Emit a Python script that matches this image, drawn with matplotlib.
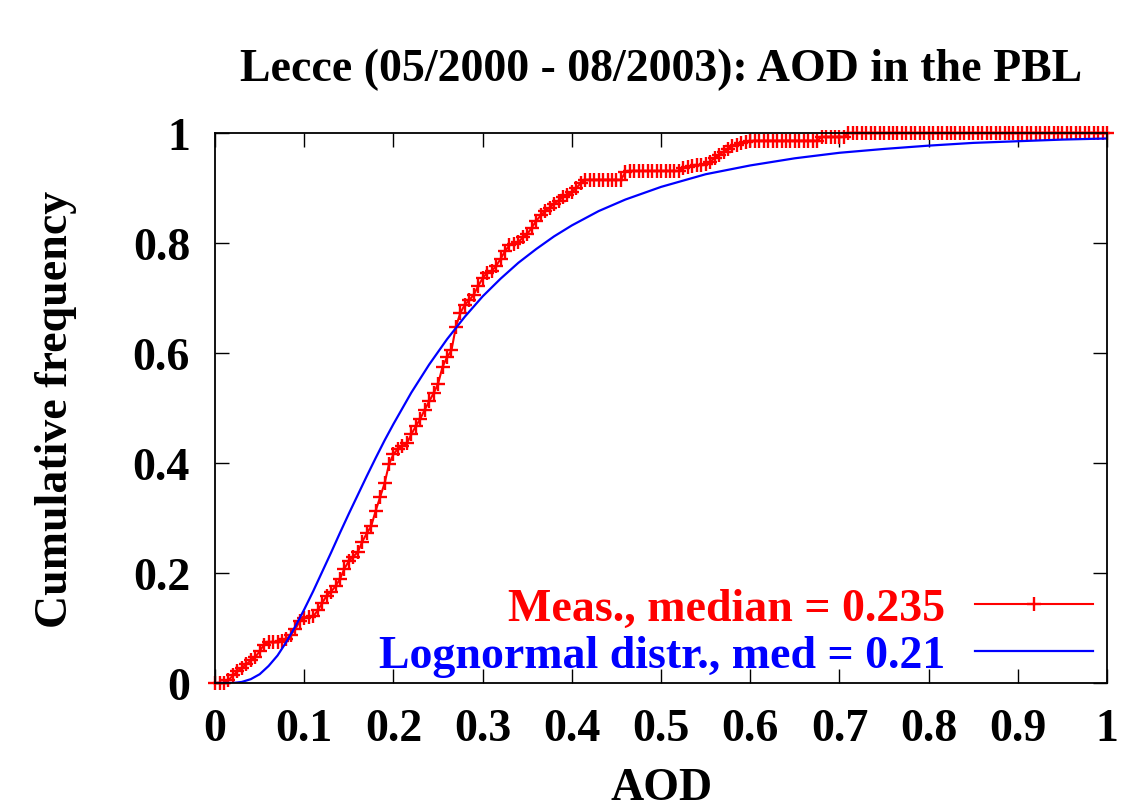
import numpy as np
import matplotlib
matplotlib.use("Agg")
import matplotlib.pyplot as plt

# measured cumulative frequency, sampled every 0.005 in AOD
aod_grid = np.linspace(0.0, 1.0, 201)
cum_meas = [
    0.000, 0.000, 0.000, 0.005, 0.014, 0.021, 0.028, 0.034, 0.041, 0.047,
    0.058, 0.070, 0.074, 0.074, 0.074, 0.076, 0.080, 0.088, 0.098, 0.113,
    0.118, 0.120, 0.121, 0.132, 0.145, 0.159, 0.166, 0.176, 0.189, 0.208,
    0.222, 0.230, 0.238, 0.257, 0.272, 0.285, 0.313, 0.338, 0.363, 0.398,
    0.416, 0.426, 0.431, 0.436, 0.452, 0.467, 0.480, 0.497, 0.512, 0.527,
    0.544, 0.575, 0.592, 0.605, 0.648, 0.673, 0.688, 0.696, 0.706, 0.722,
    0.736, 0.746, 0.749, 0.758, 0.771, 0.785, 0.796, 0.799, 0.802, 0.810,
    0.816, 0.828, 0.840, 0.850, 0.858, 0.864, 0.871, 0.877, 0.883, 0.888,
    0.893, 0.900, 0.909, 0.915, 0.915, 0.915, 0.915, 0.915, 0.915, 0.915,
    0.915, 0.915, 0.929, 0.931, 0.931, 0.931, 0.931, 0.931, 0.931, 0.931,
    0.931, 0.931, 0.931, 0.931, 0.931, 0.936, 0.938, 0.940, 0.941, 0.942,
    0.944, 0.948, 0.954, 0.960, 0.966, 0.971, 0.976, 0.979, 0.982, 0.984,
    0.985, 0.986, 0.986, 0.986, 0.986, 0.986, 0.986, 0.986, 0.986, 0.986,
    0.986, 0.986, 0.986, 0.986, 0.986, 0.986, 0.993, 0.993, 0.993, 0.993,
    0.993, 0.993, 1.000, 1.000, 1.000, 1.000, 1.000, 1.000, 1.000, 1.000,
    1.000, 1.000, 1.000, 1.000, 1.000, 1.000, 1.000, 1.000, 1.000, 1.000,
    1.000, 1.000, 1.000, 1.000, 1.000, 1.000, 1.000, 1.000, 1.000, 1.000,
    1.000, 1.000, 1.000, 1.000, 1.000, 1.000, 1.000, 1.000, 1.000, 1.000,
    1.000, 1.000, 1.000, 1.000, 1.000, 1.000, 1.000, 1.000, 1.000, 1.000,
    1.000, 1.000, 1.000, 1.000, 1.000, 1.000, 1.000, 1.000, 1.000, 1.000,
    1.000,
]

# lognormal fit
aod_logn = [0.0, 0.02, 0.03, 0.04, 0.05, 0.06, 0.07, 0.08, 0.09, 0.10,
            0.11, 0.12, 0.13, 0.14, 0.15, 0.16, 0.17, 0.18, 0.19, 0.20,
            0.22, 0.24, 0.26, 0.28, 0.30, 0.32, 0.34, 0.36, 0.38, 0.40,
            0.43, 0.46, 0.50, 0.55, 0.60, 0.65, 0.70, 0.75, 0.80, 0.85,
            0.90, 0.95, 1.00]
cum_logn = [0.000, 0.000, 0.002, 0.007, 0.016, 0.031, 0.050, 0.075, 0.103, 0.134,
            0.167, 0.202, 0.237, 0.273, 0.308, 0.342, 0.376, 0.409, 0.441, 0.471,
            0.528, 0.579, 0.625, 0.666, 0.703, 0.735, 0.764, 0.789, 0.812, 0.832,
            0.858, 0.879, 0.902, 0.925, 0.941, 0.954, 0.964, 0.971, 0.977, 0.982,
            0.985, 0.988, 0.990]

xticks = [0, 0.1, 0.2, 0.3, 0.4, 0.5, 0.6, 0.7, 0.8, 0.9, 1]
xticklabels = ["0", "0.1", "0.2", "0.3", "0.4", "0.5", "0.6", "0.7", "0.8", "0.9", "1"]
yticks = [0, 0.2, 0.4, 0.6, 0.8, 1]
yticklabels = ["0", "0.2", "0.4", "0.6", "0.8", "1"]

plt.rcParams["font.family"] = ["Liberation Serif", "DejaVu Serif"]
plt.rcParams["font.weight"] = "bold"
FS = 33

fig = plt.figure(figsize=(11.32, 8.12), dpi=100)
ax = fig.add_axes([0.19, 0.1576, 0.788, 0.6774])

ax.plot(aod_grid, cum_meas, color="#ff0000", lw=1.5, marker="+",
        ms=10, mew=1.7, clip_on=False, label="Meas., median = 0.235")
ax.plot(aod_logn, cum_logn, color="#0000ff", lw=1.6,
        label="Lognormal distr., med = 0.21")

ax.set_xlim(0, 1)
ax.set_ylim(0, 1)
ax.set_xticks(xticks)
ax.set_xticklabels(xticklabels)
ax.set_yticks(yticks)
ax.set_yticklabels(yticklabels)
ax.tick_params(direction="in", length=10, width=1, top=True, right=True,
               labelsize=FS)
ax.tick_params(axis="x", pad=18)
ax.tick_params(axis="y", pad=18)
for sp in ax.spines.values():
    sp.set_linewidth(1.3)

ax.set_title("Lecce (05/2000 - 08/2003): AOD in the PBL", fontsize=FS,
             fontweight="bold", pad=38)
# the label sits right at the bottom edge, as in the original
ax.set_xlabel("AOD", fontsize=FS, fontweight="bold", labelpad=12)
ax.set_ylabel("Cumulative frequency", fontsize=FS, fontweight="bold", labelpad=40)

leg = ax.legend(loc="lower right", bbox_to_anchor=(0.984, 0.011),
                markerfirst=False, frameon=False, fontsize=FS,
                handlelength=2.58, numpoints=1, labelspacing=0.1,
                borderpad=0.0, borderaxespad=0.0, handletextpad=0.65)
for txt, col in zip(leg.get_texts(), ["#ff0000", "#0000ff"]):
    txt.set_color(col)

fig.savefig("out.png", dpi=100)
